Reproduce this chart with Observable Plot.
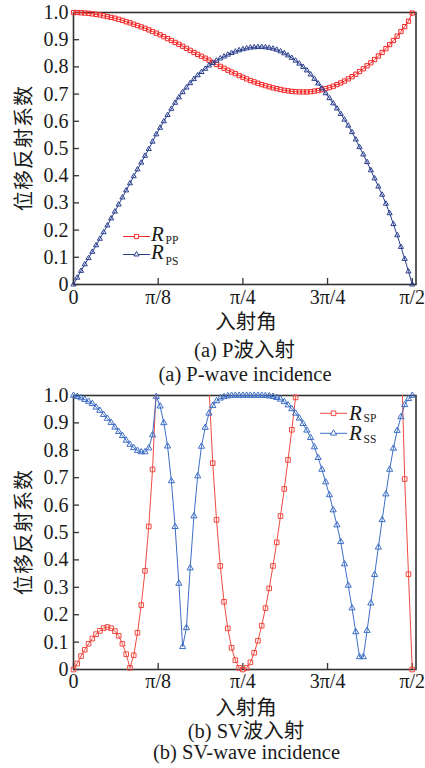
<!DOCTYPE html>
<html><head><meta charset="utf-8">
<script src="https://cdn.jsdelivr.net/npm/d3@7"></script>
<script src="https://cdn.jsdelivr.net/npm/@observablehq/plot@0.6"></script>
<style>
html,body{margin:0;padding:0;background:#fff;}
#root{position:relative;width:425px;height:768px;overflow:hidden;font-family:"Liberation Serif","DejaVu Serif","Noto Sans CJK SC",serif;color:#1a1a1a;}
.pl{position:absolute;left:0;}
.cap{position:absolute;transform:translate(-50%,-50%);white-space:nowrap;line-height:1;font-size:20.5px;}
.ytitle{position:absolute;transform:translate(-50%,-50%) rotate(-90deg);font-family:"Noto Sans CJK SC",sans-serif;font-size:20px;line-height:1;white-space:nowrap;letter-spacing:1px;}
</style></head><body><div id="root"></div>
<script>
// ---- data ----
const angles = [0,1,2,3,4,5,6,7,8,9,10,11,12,13,14,15,16,17,18,19,20,21,22,23,24,25,26,27,28,29,30,31,32,33,34,35,36,37,38,39,40,41,42,43,44,45,46,47,48,49,50,51,52,53,54,55,56,57,58,59,60,61,62,63,64,65,66,67,68,69,70,71,72,73,74,75,76,77,78,79,80,81,82,83,84,85,86,87,88,89,90];
const xTickValues = [0, 22.5, 45, 67.5, 90];
const xTickLabels = ["0", "π/8", "π/4", "3π/4", "π/2"];
const yTickValues = [0, 0.1, 0.2, 0.3, 0.4, 0.5, 0.6, 0.7, 0.8, 0.9, 1.0];
const yTickLabels = ["0", "0.1", "0.2", "0.3", "0.4", "0.5", "0.6", "0.7", "0.8", "0.9", "1.0"];

const R_PP = [1.000,1.000,0.999,0.998,0.997,0.995,0.993,0.991,0.988,0.985,
 0.982,0.979,0.975,0.971,0.966,0.962,0.957,0.952,0.947,0.942,
 0.936,0.930,0.924,0.918,0.911,0.904,0.897,0.890,0.883,0.876,
 0.868,0.861,0.853,0.846,0.839,0.832,0.825,0.817,0.809,0.802,
 0.795,0.788,0.781,0.775,0.768,0.762,0.756,0.750,0.745,0.740,
 0.735,0.731,0.727,0.723,0.720,0.717,0.714,0.712,0.710,0.709,
 0.708,0.708,0.708,0.709,0.711,0.713,0.716,0.720,0.724,0.729,
 0.735,0.741,0.748,0.756,0.764,0.773,0.783,0.793,0.804,0.815,
 0.827,0.840,0.853,0.867,0.882,0.897,0.913,0.930,0.948,0.968,
 0.998];
const R_PS = [0.000,0.025,0.050,0.074,0.097,0.120,0.144,0.168,0.192,0.217,
 0.243,0.268,0.294,0.320,0.346,0.372,0.398,0.423,0.448,0.473,
 0.498,0.525,0.552,0.576,0.600,0.623,0.646,0.668,0.688,0.707,
 0.724,0.740,0.755,0.769,0.781,0.793,0.805,0.814,0.823,0.831,
 0.838,0.845,0.851,0.856,0.861,0.865,0.868,0.871,0.872,0.873,
 0.873,0.872,0.870,0.867,0.863,0.857,0.850,0.842,0.833,0.823,
 0.812,0.800,0.787,0.772,0.756,0.739,0.721,0.703,0.685,0.666,
 0.647,0.627,0.606,0.584,0.560,0.533,0.505,0.478,0.450,0.420,
 0.390,0.360,0.330,0.297,0.262,0.222,0.181,0.138,0.094,0.048,
 0.000];
const R_SP = [0.000,0.022,0.049,0.072,0.094,0.113,0.129,0.141,0.151,0.155,
 0.151,0.140,0.123,0.094,0.056,0.006,0.052,0.134,0.235,0.360,
 0.522,0.730,1.040,1.300,1.500,1.650,1.750,1.800,1.800,1.750,
 1.650,1.550,1.450,1.350,1.250,1.150,1.030,0.753,0.546,0.378,
 0.247,0.150,0.079,0.034,0.006,0.000,0.006,0.026,0.061,0.105,
 0.160,0.224,0.296,0.378,0.464,0.560,0.659,0.765,0.875,0.993,
 1.100,1.200,1.300,1.400,1.480,1.550,1.600,1.640,1.670,1.690,
 1.700,1.700,1.690,1.670,1.640,1.600,1.560,1.510,1.460,1.410,
 1.360,1.320,1.280,1.250,1.230,1.210,1.200,1.200,0.695,0.348,
 0.000];
const R_SS = [1.000,0.996,0.991,0.985,0.978,0.970,0.957,0.945,0.930,0.916,
 0.901,0.884,0.868,0.853,0.836,0.821,0.809,0.799,0.794,0.794,
 0.808,0.856,0.996,0.961,0.900,0.815,0.688,0.521,0.314,0.083,
 0.152,0.370,0.560,0.706,0.814,0.883,0.935,0.963,0.980,0.990,
 0.995,0.998,1.000,1.000,1.000,1.000,1.000,1.000,1.000,1.000,
 1.000,0.999,0.998,0.996,0.992,0.986,0.977,0.965,0.951,0.935,
 0.917,0.897,0.873,0.846,0.812,0.773,0.730,0.684,0.637,0.582,
 0.527,0.466,0.385,0.307,0.224,0.137,0.046,0.046,0.142,0.242,
 0.346,0.446,0.546,0.640,0.730,0.807,0.872,0.922,0.966,0.988,
 1.000];

const xTitle = "入射角";
const yTitle = "位移反射系数";
const captionsA = ["(a) P波入射", "(a) P-wave incidence"];
const captionsB = ["(b) SV波入射", "(b) SV-wave incidence"];
const subsA = ["PP", "PS"];
const subsB = ["SP", "SS"];

// ---- styles ----
const redA = "#f42828", blueA = "#2b3f8e", redB = "#ef4a40", blueB = "#3d6ec6";
const W = 425, ML = 73, MR = 9.5;
const serif = "'Liberation Serif', 'DejaVu Serif', serif";
const root = document.getElementById("root");

function panel({series, top, height, mt, mb, tickPad}) {
  const frameH = height - mt - mb, frameW = W - ML - MR;
  const marks = [
    Plot.frame({stroke: "#333", strokeWidth: 1.6}),
    Plot.ruleX(xTickValues, {x: d => d, insetTop: frameH - 6, stroke: "#333", strokeWidth: 1.3}),
    Plot.ruleY(yTickValues, {y: d => d, insetRight: frameW - 6, stroke: "#333", strokeWidth: 1.3}),
    Plot.axisX(xTickValues, {tickSize: 0, tickPadding: tickPad, fontSize: 20, label: null, fontFamily: serif,
      tickFormat: d => xTickLabels[xTickValues.indexOf(d)]}),
    Plot.axisY(yTickValues, {tickSize: 0, tickPadding: 5, fontSize: 20, label: null, fontFamily: serif,
      tickFormat: d => yTickLabels[yTickValues.indexOf(d)]})
  ];
  for (const s of series) {
    const rows = s.values.map((v, i) => ({x: angles[i], y: v}));
    marks.push(Plot.line(rows, {x: "x", y: "y", stroke: s.color, strokeWidth: 1, clip: true}));
    marks.push(Plot.dot(rows, {x: "x", y: "y", filter: d => d.y <= 1.01, symbol: s.symbol, r: s.r,
      stroke: s.color, strokeWidth: 1, fill: "none"}));
  }
  const svg = Plot.plot({
    width: W, height, marginLeft: ML, marginRight: MR, marginTop: mt, marginBottom: mb,
    x: {domain: [0, 91], label: null},
    y: {domain: [0, 1], label: null},
    style: {fontFamily: serif, fontSize: "20px", background: "transparent", overflow: "visible", color: "#1a1a1a"},
    marks
  });
  svg.classList.add("pl");
  svg.style.top = top + "px";
  root.appendChild(svg);
}

panel({top: 0, height: 310, mt: 12, mb: 26, tickPad: 5, series: [
  {values: R_PP, color: redA, symbol: d3.symbolSquare, r: 2.4},
  {values: R_PS, color: blueA, symbol: d3.symbolTriangle, r: 1.9}
]});
panel({top: 380, height: 310, mt: 15, mb: 21, tickPad: 4, series: [
  {values: R_SP, color: redB, symbol: d3.symbolSquare, r: 2.6},
  {values: R_SS, color: blueB, symbol: d3.symbolTriangle, r: 2.3}
]});

function addText(txt, x, y, cls) {
  const d = document.createElement("div");
  d.className = cls; d.textContent = txt;
  d.style.left = x + "px"; d.style.top = y + "px";
  root.appendChild(d);
}
addText(yTitle, 22.5, 148, "ytitle");
addText(yTitle, 22.5, 532, "ytitle");
addText(xTitle, 246, 322, "cap");
addText(captionsA[0], 244.5, 350, "cap");
addText(captionsA[1], 245, 374, "cap");
addText(xTitle, 246, 708, "cap");
addText(captionsB[0], 246, 731, "cap");
addText(captionsB[1], 246.5, 752, "cap");

// ---- legends ----
function legend(items) {
  const ns = "http://www.w3.org/2000/svg";
  const svg = document.createElementNS(ns, "svg");
  svg.setAttribute("width", W); svg.setAttribute("height", 768);
  svg.setAttribute("style", "position:absolute;left:0;top:0;overflow:visible");
  for (const it of items) {
    const g = d3.select(svg).append("g").attr("font-family", serif).attr("fill", "#1a1a1a");
    g.append("line").attr("x1", it.x0).attr("x2", it.x1).attr("y1", it.y).attr("y2", it.y)
      .attr("stroke", it.color).attr("stroke-width", 1);
    g.append("path").attr("d", d3.symbol(it.symbol, Math.PI * it.r * it.r)())
      .attr("transform", `translate(${(it.x0 + it.x1) / 2},${it.y})`)
      .attr("fill", "white").attr("stroke", it.color).attr("stroke-width", 1);
    g.append("text").attr("x", it.tx).attr("y", it.base)
      .attr("font-style", "italic").attr("font-size", 21).text("R");
    g.append("text").attr("x", it.tx + 14.5).attr("y", it.base + it.subDy)
      .attr("font-size", 11.5).text(it.sub);
  }
  root.appendChild(svg);
}
legend([
  {x0: 123, x1: 150, y: 236.5, color: redA, symbol: d3.symbolSquare, r: 2.4, tx: 151, base: 241, sub: subsA[0], subDy: 3},
  {x0: 123, x1: 150, y: 254.5, color: blueA, symbol: d3.symbolTriangle, r: 1.9, tx: 151, base: 259, sub: subsA[1], subDy: 6},
  {x0: 320, x1: 347, y: 413.3, color: redB, symbol: d3.symbolSquare, r: 2.6, tx: 349, base: 420, sub: subsB[0], subDy: 2},
  {x0: 320, x1: 347, y: 433.3, color: blueB, symbol: d3.symbolTriangle, r: 2.3, tx: 349, base: 440, sub: subsB[1], subDy: 3}
]);
</script>
</body></html>
